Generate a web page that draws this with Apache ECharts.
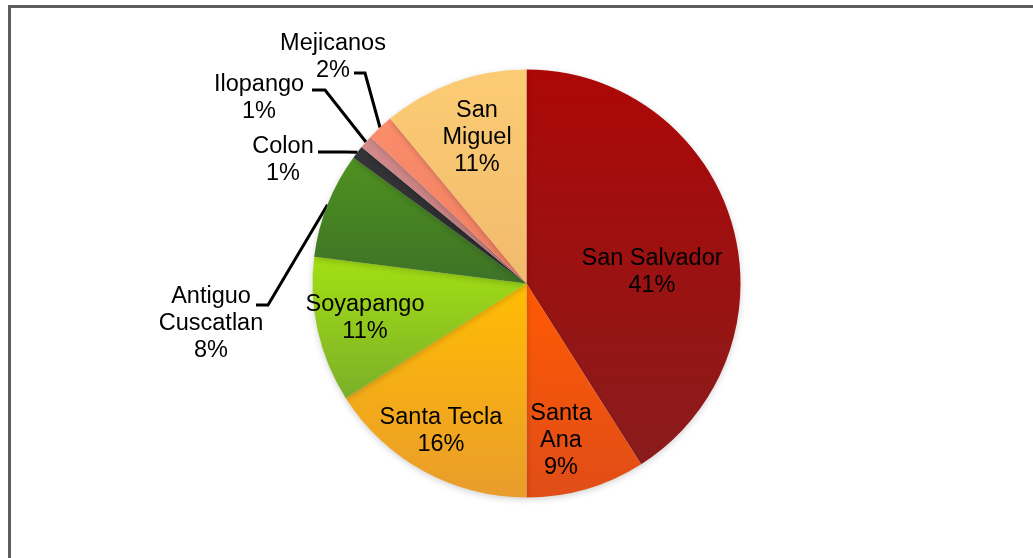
<!DOCTYPE html>
<html>
<head>
<meta charset="utf-8">
<title>Distribución por municipio</title>
<script src="https://cdn.jsdelivr.net/npm/echarts@6/dist/echarts.min.js"></script>
<style>
  html, body { margin: 0; padding: 0; background: #ffffff; }
  #chart { width: 1033px; height: 558px; }
</style>
</head>
<body>
<div id="chart"></div>
<script>
// Municipalities, clockwise from 12 o'clock
const categories = ['San Salvador', 'Santa Ana', 'Santa Tecla', 'Soyapango', 'Antiguo Cuscatlan', 'Colon', 'Ilopango', 'Mejicanos', 'San Miguel'];
// Share of each municipality (%)
const shares = [41, 9, 16, 11, 8, 1, 1, 2, 11];
// Label text as it wraps on the chart
const labelTexts = ['San Salvador', 'Santa\nAna', 'Santa Tecla', 'Soyapango', 'Antiguo\nCuscatlan', 'Colon', 'Ilopango', 'Mejicanos', 'San\nMiguel'];

// Slice fills: light at the top of each slice, deeper at the bottom
const sliceColors = [
  ['#ad0707', '#8a1c1c'],
  ['#ff5a02', '#e04d18'],
  ['#ffbd02', '#e99c2c'],
  ['#a3e012', '#7caf2a'],
  ['#4f9120', '#3d7226'],
  ['#353538', '#2a2a2e'],
  ['#d38a8a', '#c27a7a'],
  ['#fb8d6b', '#ef7f60'],
  ['#fccc74', '#f1ba6c']
];

// Labels that sit outside the pie with a leader line
const outsideNames = ['Antiguo Cuscatlan', 'Colon', 'Ilopango', 'Mejicanos'];

// Where each label block is centred, and where leader lines turn and end
const labelPlacement = {
  'San Salvador':      { center: [652, 272] },
  'Santa Ana':         { center: [561, 441] },
  'Santa Tecla':       { center: [441, 431] },
  'Soyapango':         { center: [365, 318] },
  'San Miguel':        { center: [477, 138] },
  'Antiguo Cuscatlan': { center: [211, 324], elbow: [268, 305], end: [256, 305] },
  'Colon':             { center: [283, 160], elbow: [344, 152], end: [318, 152] },
  'Ilopango':          { center: [259, 98],  elbow: [325, 90],  end: [312, 90] },
  'Mejicanos':         { center: [333, 57],  elbow: [365, 73],  end: [354, 73] }
};

const pieData = categories.map(function (name, i) {
  const outside = outsideNames.indexOf(name) >= 0;
  return {
    name: name,
    value: shares[i],
    itemStyle: {
      color: new echarts.graphic.LinearGradient(0, 0, 0, 1, [
        { offset: 0, color: sliceColors[i][0] },
        { offset: 1, color: sliceColors[i][1] }
      ])
    },
    label: { position: outside ? 'outside' : 'inside' },
    labelLine: { show: outside }
  };
});

const chart = echarts.init(document.getElementById('chart'), null, { renderer: 'canvas' });

chart.setOption({
  animation: false,
  backgroundColor: '#ffffff',
  graphic: [{
    type: 'rect',
    silent: true,
    shape: { x: 9.5, y: 6.5, width: 1100, height: 700 },
    style: { fill: 'none', stroke: '#5e5e5e', lineWidth: 3 }
  }],
  series: [{
    type: 'pie',
    center: [526.5, 283.5],
    radius: 214,
    startAngle: 90,
    clockwise: true,
    avoidLabelOverlap: false,
    silent: true,
    itemStyle: {
      borderWidth: 0,
      shadowBlur: 6,
      shadowColor: 'rgba(0,0,0,0.18)',
      shadowOffsetY: 2
    },
    label: {
      show: true,
      color: '#000000',
      fontFamily: '"Liberation Sans", Arial, sans-serif',
      fontSize: 23.5,
      lineHeight: 27,
      align: 'center',
      formatter: function (p) {
        return labelTexts[p.dataIndex] + '\n' + Math.round(p.percent) + '%';
      }
    },
    labelLine: {
      show: true,
      smooth: false,
      length: 20,
      length2: 12,
      lineStyle: { color: '#000000', width: 3 }
    },
    labelLayout: function (p) {
      const place = labelPlacement[categories[p.dataIndex]];
      const layout = {
        x: place.center[0],
        y: place.center[1],
        align: 'center',
        verticalAlign: 'middle'
      };
      if (place.end && p.labelLinePoints) {
        layout.labelLinePoints = [p.labelLinePoints[0], place.elbow, place.end];
      }
      return layout;
    },
    data: pieData
  }]
});
</script>
</body>
</html>
